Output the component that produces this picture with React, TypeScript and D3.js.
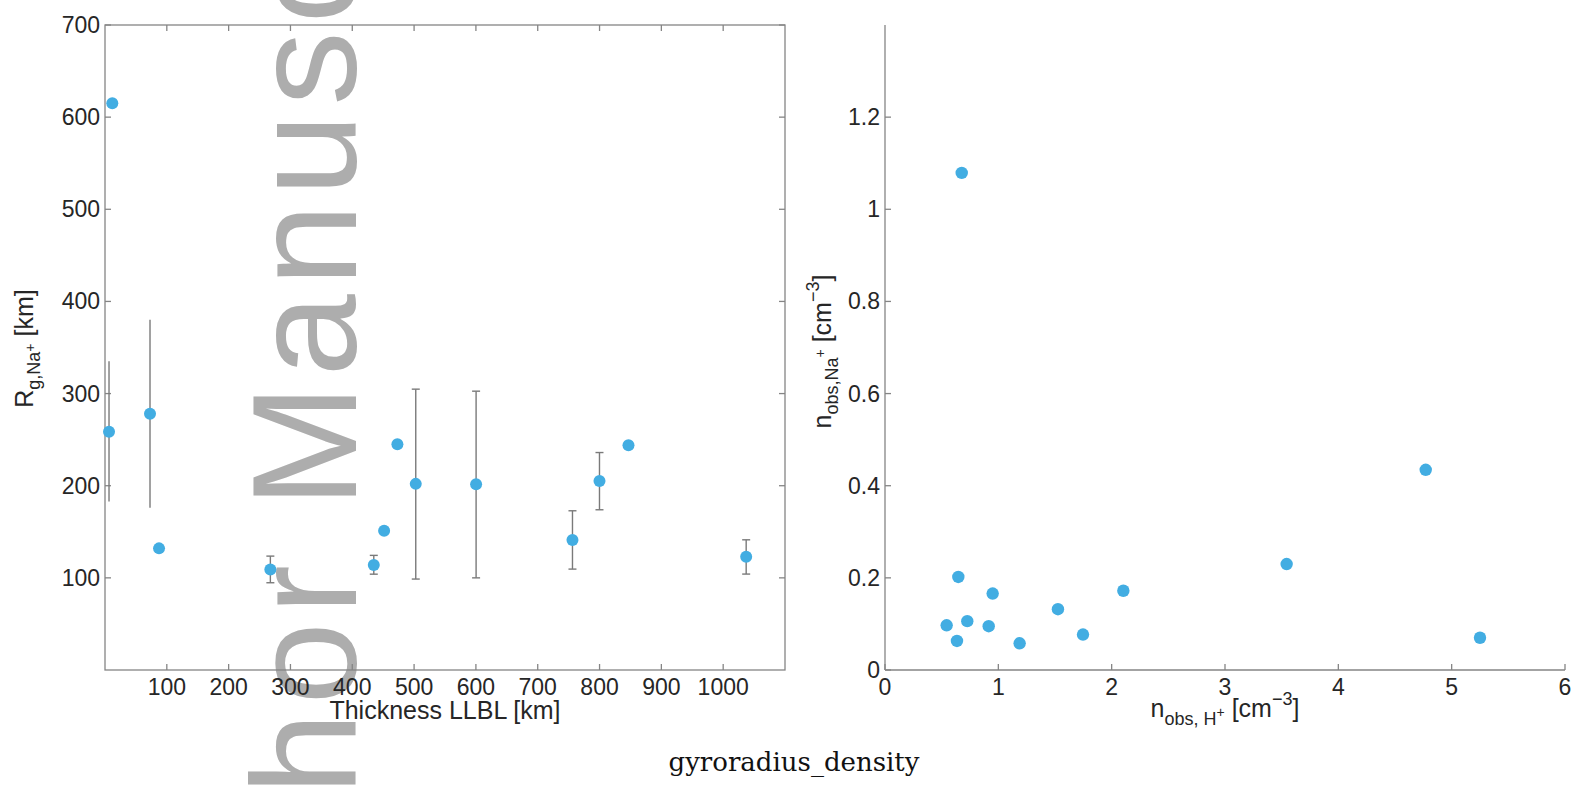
import React from "react";
import * as d3 from "d3";

// ---------- Data ----------
const thicknessKm = [11.8, 6.5, 72.8, 87.4, 267.5, 434.8, 451.5, 473, 502.7, 600.3, 756.2, 799.9, 846.8, 1037.2];
const gyroradiusKm = [615, 258.5, 278, 132, 109, 114, 151, 245, 202, 201.5, 141, 205, 244, 123];
const gyroErrLow = [null, 183, 176, null, 94.7, 104, null, null, 98.7, 100, 109.5, 173.9, null, 104.1];
const gyroErrHigh = [null, 335, 380, null, 123.6, 124.4, null, null, 304.8, 302.6, 172.8, 236, null, 141.3];
const errNoCap = [1, 2];

const nH = [0.677, 0.647, 0.95, 0.544, 0.726, 0.915, 0.635, 1.188, 1.526, 1.747, 2.103, 3.544, 4.771, 5.25];
const nNa = [1.079, 0.202, 0.166, 0.097, 0.106, 0.095, 0.063, 0.058, 0.132, 0.077, 0.172, 0.23, 0.4345, 0.07];

const leftXTicks = [100, 200, 300, 400, 500, 600, 700, 800, 900, 1000];
const leftYTicks = [100, 200, 300, 400, 500, 600, 700];
const rightXTicks = [0, 1, 2, 3, 4, 5, 6];
const rightYTicks = [0, 0.2, 0.4, 0.6, 0.8, 1, 1.2];

const caption = "gyroradius_density";
const watermark = "Author Manuscript";

// ---------- Styles ----------
const W = 1580;
const H = 799;
const FONT = "'Liberation Sans', Arial, Helvetica, sans-serif";
const AXIS = "#858585";
const TXT = "#262626";
const DOT = "#42ade2";
const TICK = 6;
const FS = 23;
const LFS = 25;
const SUB = 18;
const SUP = 14;

const L = { left: 105, right: 785, top: 25, bottom: 670 };
const R = { left: 885, right: 1565, top: 25, bottom: 670 };

export default function App() {
  const lx = d3.scaleLinear().domain([0, 1100]).range([L.left, L.right]);
  const ly = d3.scaleLinear().domain([0, 700]).range([L.bottom, L.top]);
  const rx = d3.scaleLinear().domain([0, 6]).range([R.left, R.right]);
  const ry = d3.scaleLinear().domain([0, 1.4]).range([R.bottom, R.top]);

  const fmt = (v: number) => d3.format("~g")(v);

  return (
    <svg
      width={W}
      height={H}
      viewBox={`0 0 ${W} ${H}`}
      style={{ position: "absolute", left: 0, top: 0, background: "#fff" }}
      fontFamily={FONT}
    >
      <rect x={0} y={0} width={W} height={H} fill="#fff" />

      {/* watermark */}
      <text
        transform="translate(356,1041) rotate(-90)"
        fontSize={148}
        letterSpacing={8}
        fill="#adadad"
        fontFamily={FONT}
      >
        {watermark}
      </text>

      {/* ---------- Left panel ---------- */}
      <g>
        <rect
          x={L.left}
          y={L.top}
          width={L.right - L.left}
          height={L.bottom - L.top}
          fill="none"
          stroke={AXIS}
          strokeWidth={1.3}
        />
        {leftXTicks.map((t) => (
          <g key={"lx" + t}>
            <line x1={lx(t)} x2={lx(t)} y1={L.bottom} y2={L.bottom - TICK} stroke={AXIS} strokeWidth={1.3} />
            <line x1={lx(t)} x2={lx(t)} y1={L.top} y2={L.top + TICK} stroke={AXIS} strokeWidth={1.3} />
            <text x={lx(t)} y={695} textAnchor="middle" fontSize={FS} fill={TXT}>
              {fmt(t)}
            </text>
          </g>
        ))}
        {leftYTicks.map((t) => (
          <g key={"ly" + t}>
            <line x1={L.left} x2={L.left + TICK} y1={ly(t)} y2={ly(t)} stroke={AXIS} strokeWidth={1.3} />
            <line x1={L.right} x2={L.right - TICK} y1={ly(t)} y2={ly(t)} stroke={AXIS} strokeWidth={1.3} />
            <text x={100} y={ly(t)} dy="0.35em" textAnchor="end" fontSize={FS} fill={TXT}>
              {fmt(t)}
            </text>
          </g>
        ))}
        <text x={(L.left + L.right) / 2} y={719} textAnchor="middle" fontSize={LFS} fill={TXT}>
          Thickness LLBL [km]
        </text>
        <text
          transform={`translate(33,${(L.top + L.bottom) / 2 + 1}) rotate(-90)`}
          textAnchor="middle"
          fontSize={LFS}
          fill={TXT}
        >
          R
          <tspan fontSize={SUB} dy={7}>g,Na</tspan>
          <tspan fontSize={SUP} dy={-5}>+</tspan>
          <tspan dy={-2}> [km]</tspan>
        </text>

        {/* error bars */}
        {thicknessKm.map((xv, i) => {
          const lo = gyroErrLow[i];
          const hi = gyroErrHigh[i];
          if (lo == null || hi == null) return null;
          const cx = lx(xv);
          const cap = errNoCap.includes(i) ? 0 : 4;
          return (
            <g key={"eb" + i} stroke="#7a7a7a" strokeWidth={1.4}>
              <line x1={cx} x2={cx} y1={ly(lo)} y2={ly(hi)} />
              {cap > 0 && <line x1={cx - cap} x2={cx + cap} y1={ly(lo)} y2={ly(lo)} />}
              {cap > 0 && <line x1={cx - cap} x2={cx + cap} y1={ly(hi)} y2={ly(hi)} />}
            </g>
          );
        })}
        {thicknessKm.map((xv, i) => (
          <circle key={"ld" + i} cx={lx(xv)} cy={ly(gyroradiusKm[i])} r={6} fill={DOT} />
        ))}
      </g>

      {/* ---------- Right panel ---------- */}
      <g>
        <line x1={R.left} x2={R.left} y1={R.top} y2={R.bottom} stroke={AXIS} strokeWidth={1.3} />
        <line x1={R.left} x2={R.right} y1={R.bottom} y2={R.bottom} stroke={AXIS} strokeWidth={1.3} />
        {rightXTicks.map((t) => (
          <g key={"rx" + t}>
            <line x1={rx(t)} x2={rx(t)} y1={R.bottom} y2={R.bottom - TICK} stroke={AXIS} strokeWidth={1.3} />
            <text x={rx(t)} y={695} textAnchor="middle" fontSize={FS} fill={TXT}>
              {fmt(t)}
            </text>
          </g>
        ))}
        {rightYTicks.map((t) => (
          <g key={"ry" + t}>
            <line x1={R.left} x2={R.left + TICK} y1={ry(t)} y2={ry(t)} stroke={AXIS} strokeWidth={1.3} />
            <text x={880} y={ry(t)} dy="0.35em" textAnchor="end" fontSize={FS} fill={TXT}>
              {fmt(t)}
            </text>
          </g>
        ))}
        <text x={(R.left + R.right) / 2} y={717} textAnchor="middle" fontSize={LFS} fill={TXT}>
          n
          <tspan fontSize={SUB} dy={8}>obs, H</tspan>
          <tspan fontSize={SUP} dy={-8}>+</tspan>
          <tspan dy={0}> [cm</tspan>
          <tspan fontSize={SUB} dy={-12}>−3</tspan>
          <tspan dy={12}>]</tspan>
        </text>
        <text
          transform={`translate(831,${(R.top + R.bottom) / 2 + 4}) rotate(-90)`}
          textAnchor="middle"
          fontSize={LFS}
          fill={TXT}
        >
          n
          <tspan fontSize={SUB} dy={7}>obs,Na</tspan>
          <tspan fontSize={SUP} dy={-13}>+</tspan>
          <tspan dy={6}> [cm</tspan>
          <tspan fontSize={SUB} dy={-12}>−3</tspan>
          <tspan dy={12}>]</tspan>
        </text>
        {nH.map((xv, i) => (
          <circle key={"rd" + i} cx={rx(xv)} cy={ry(nNa[i])} r={6.2} fill={DOT} />
        ))}
      </g>

      {/* caption */}
      <text
        x={794}
        y={771}
        textAnchor="middle"
        fontSize={26}
        fill="#111"
        fontFamily="'DejaVu Serif', 'Liberation Serif', serif"
      >
        {caption}
      </text>
    </svg>
  );
}
